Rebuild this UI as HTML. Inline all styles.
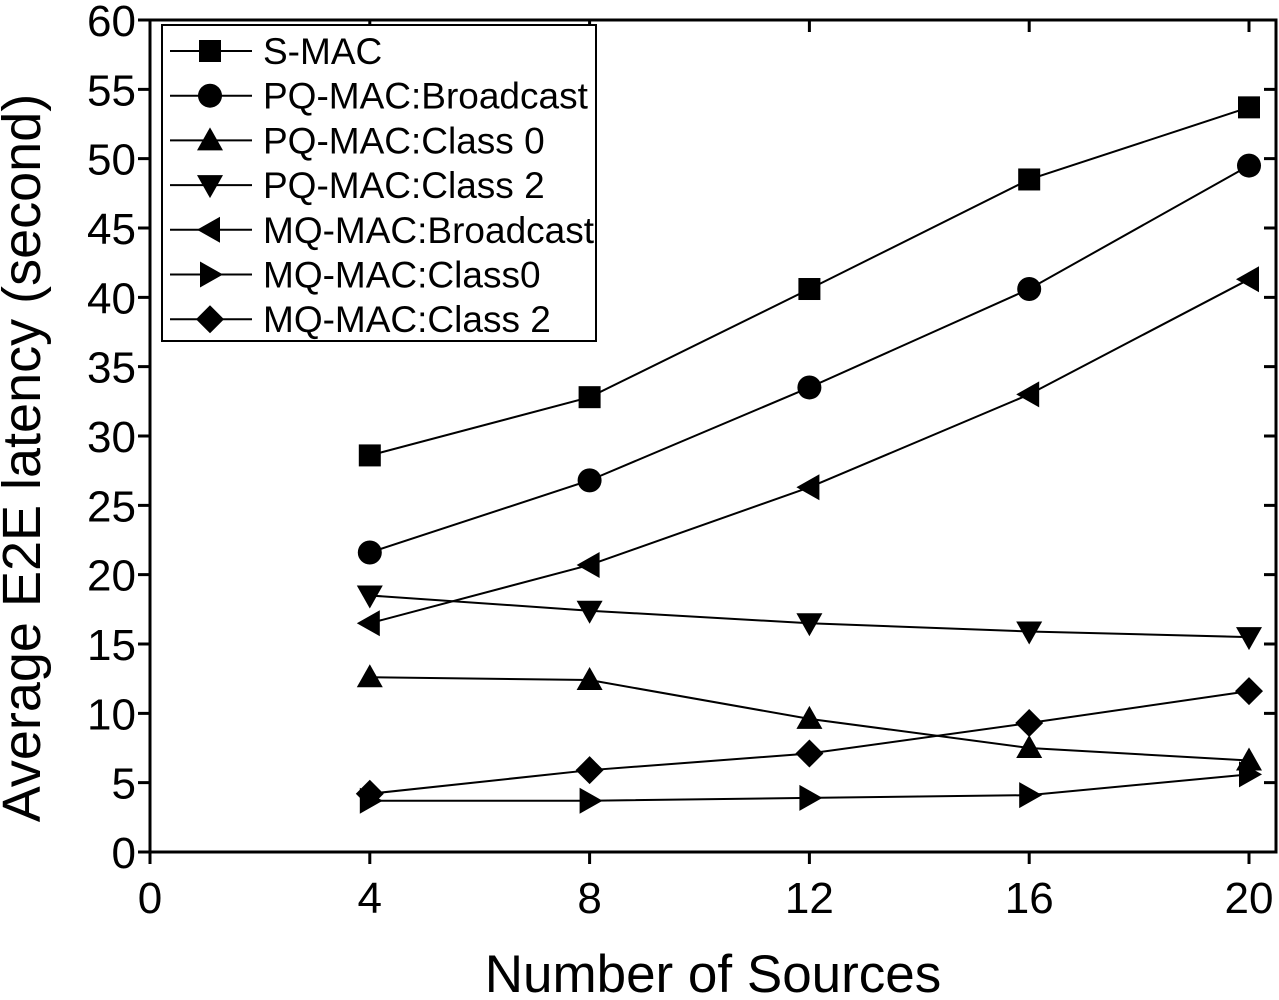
<!DOCTYPE html>
<html><head><meta charset="utf-8"><style>
html,body{margin:0;padding:0;background:#fff}
svg{display:block;font-family:"Liberation Sans",Arial,sans-serif}
</style></head><body>
<svg id="chart" width="1279" height="1000" viewBox="0 0 1279 1000" xmlns="http://www.w3.org/2000/svg">
<g id="axes"></g><g id="series"></g><g id="legend"></g>
</svg>
<script>
const xCats = [4, 8, 12, 16, 20];
const sMac = [28.6, 32.8, 40.6, 48.5, 53.7];
const pqBroadcast = [21.6, 26.8, 33.5, 40.6, 49.5];
const pqClass0 = [12.6, 12.4, 9.6, 7.5, 6.6];
const pqClass2 = [18.5, 17.4, 16.5, 15.9, 15.5];
const mqBroadcast = [16.5, 20.7, 26.3, 33.0, 41.3];
const mqClass0 = [3.7, 3.7, 3.9, 4.1, 5.6];
const mqClass2 = [4.2, 5.9, 7.1, 9.3, 11.6];
const xTicks = [0, 4, 8, 12, 16, 20];
const yTicks = [0,5,10,15,20,25,30,35,40,45,50,55,60];
const seriesNames = ["S-MAC","PQ-MAC:Broadcast","PQ-MAC:Class 0","PQ-MAC:Class 2","MQ-MAC:Broadcast","MQ-MAC:Class0","MQ-MAC:Class 2"];

const NS="http://www.w3.org/2000/svg";
const L=150,R=1276,T=20,B=852;
const xs=v=>150+v*(1249-150)/20;
const ys=v=>852-v*(852-20)/60;
function mk(tag,attrs,parent){const e=document.createElementNS(NS,tag);for(const k in attrs)e.setAttribute(k,attrs[k]);parent.appendChild(e);return e;}
const axes=document.getElementById('axes'),ser=document.getElementById('series'),leg=document.getElementById('legend');

const frame=mk('rect',{x:L,y:T,width:R-L,height:B-T,fill:'none',stroke:'#000','stroke-width':3},axes);


xTicks.forEach(t=>{
  const x=xs(t);
  const tk=mk('path',{d:`M${x},${B}v12M${x},${T}v12`,stroke:'#000','stroke-width':3},axes);
  
  
  const tx=mk('text',{x:x,y:913,'font-size':44,'text-anchor':'middle'},axes);
  tx.textContent=t;
  
  
});
yTicks.forEach(t=>{
  const y=ys(t);
  const tk=mk('path',{d:`M${L},${y}h-12M${R},${y}h-12`,stroke:'#000','stroke-width':3},axes);
  
  
  const tx=mk('text',{x:136,y:y+16,'font-size':44,'text-anchor':'end'},axes);
  tx.textContent=t;
  
  
});
const xt=mk('text',{x:713,y:992,'font-size':53,'text-anchor':'middle'},axes);
xt.textContent='Number of Sources';


const yt=mk('text',{x:0,y:0,'font-size':54,'text-anchor':'middle',transform:'translate(40,458) rotate(-90)'},axes);
yt.textContent='Average E2E latency (second)';



function marker(type,x,y,parent){
  let e;const s=11;
  if(type==='square')e=mk('rect',{x:x-s,y:y-s,width:2*s,height:2*s},parent);
  else if(type==='circle')e=mk('circle',{cx:x,cy:y,r:12},parent);
  else if(type==='up')e=mk('polygon',{points:`${x},${y-13} ${x+13},${y+10} ${x-13},${y+10}`},parent);
  else if(type==='down')e=mk('polygon',{points:`${x},${y+13} ${x+13},${y-10} ${x-13},${y-10}`},parent);
  else if(type==='left')e=mk('polygon',{points:`${x-13},${y} ${x+10},${y-13} ${x+10},${y+13}`},parent);
  else if(type==='right')e=mk('polygon',{points:`${x+13},${y} ${x-10},${y-13} ${x-10},${y+13}`},parent);
  else e=mk('polygon',{points:`${x},${y-14} ${x+14},${y} ${x},${y+14} ${x-14},${y}`},parent);
  e.setAttribute('fill','#000');
  return e;
}
const allSeries=[sMac,pqBroadcast,pqClass0,pqClass2,mqBroadcast,mqClass0,mqClass2];
const types=['square','circle','up','down','left','right','diamond'];
allSeries.forEach((vals,i)=>{
  const g=mk('g',{},ser);
  
  
  const pl=mk('polyline',{points:vals.map((v,j)=>xs(xCats[j])+','+ys(v)).join(' '),fill:'none',stroke:'#000','stroke-width':2},g);
  
  
  vals.forEach((v,j)=>{
    const m=marker(types[i],xs(xCats[j]),ys(v),g);
    
    
  });
});
const lb=mk('rect',{x:162,y:25,width:434,height:316,fill:'#fff',stroke:'#000','stroke-width':2},leg);


seriesNames.forEach((n,i)=>{
  const y=51+i*44.7;
  const g=mk('g',{},leg);
  
  
  mk('line',{x1:170,x2:252,y1:y,y2:y,stroke:'#000','stroke-width':2},g);
  marker(types[i],210,y,g);
  const t=mk('text',{x:263,y:y+13,'font-size':37},g);
  t.textContent=n;
});
</script>
</body></html>
